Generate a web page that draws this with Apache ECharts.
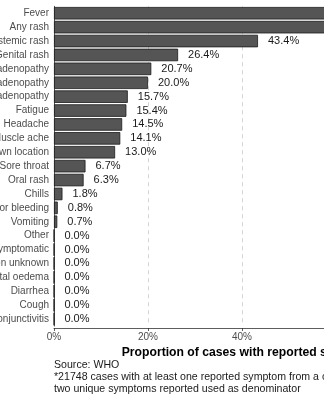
<!DOCTYPE html>
<html>
<head>
<meta charset="utf-8">
<script src="https://cdn.jsdelivr.net/npm/echarts@6/dist/echarts.min.js"></script>
<style>html,body{margin:0;padding:0;background:#fff}#c{width:324px;height:400px}</style>
</head>
<body>
<div id="c"></div>
<script>
var categories = ["Fever","Any rash","Systemic rash","Genital rash","Inguinal lymphadenopathy","Generalized lymphadenopathy","Cervical lymphadenopathy","Fatigue","Headache","Muscle ache","Rash, unknown location","Sore throat","Oral rash","Chills","Hemorrhage and/or bleeding","Vomiting","Other","Asymptomatic","Rash location unknown","Genital oedema","Diarrhea","Cough","Conjunctivitis"];
var values = [62.3, 58.9, 43.4, 26.4, 20.7, 20.0, 15.7, 15.4, 14.5, 14.1, 13.0, 6.7, 6.3, 1.8, 0.8, 0.7, 0.0, 0.0, 0.0, 0.0, 0.0, 0.0, 0.0];
var xTicks = [0, 20, 40, 60, 80];
var axisTitle = "Proportion of cases with reported symptoms*";
var caption = "Source: WHO\n*21748 cases with at least one reported symptom from a country with at least\ntwo unique symptoms reported used as denominator";

var chart = echarts.init(document.getElementById('c'), null, {renderer: 'canvas'});
var FONT = '"Liberation Sans", Arial, Helvetica, sans-serif';
chart.setOption({
  animation: false,
  textStyle: {fontFamily: FONT},
  title: {
    text: caption, left: 54, top: 359, padding: 0,
    textStyle: {fontSize: 10.6, fontWeight: 'normal', color: '#1a1a1a', lineHeight: 12, fontFamily: FONT}
  },
  grid: {left: 54, right: -129.5, top: 6.3, bottom: 74, containLabel: false, outerBoundsMode: 'none'},
  xAxis: {
    type: 'value', min: xTicks[0], max: 85, interval: 20, offset: 2,
    axisLine: {show: true, lineStyle: {color: '#333', width: 0.8}},
    axisTick: {show: true, length: 3, lineStyle: {color: '#333', width: 0.8}},
    axisLabel: {fontSize: 10, color: '#4d4d4d', margin: 4, formatter: '{value}%', fontFamily: FONT},
    splitLine: {show: true, lineStyle: {color: '#c8c8c8', type: [4, 4], width: 0.8}},
    name: axisTitle, nameLocation: 'middle', nameGap: 14,
    nameTextStyle: {fontSize: 12.2, fontWeight: 'bold', color: '#000', fontFamily: FONT}
  },
  yAxis: {
    type: 'category', data: categories, inverse: true,
    axisLine: {show: true, lineStyle: {color: '#333', width: 0.8}},
    axisTick: {show: false},
    axisLabel: {fontSize: 10, color: '#4d4d4d', margin: 5, fontFamily: FONT},
    splitLine: {show: false}
  },
  series: [{
    type: 'bar', data: values, barCategoryGap: '10%',
    itemStyle: {color: '#555555', borderColor: '#1a1a1a', borderWidth: 0.8},
    label: {show: true, position: 'right', distance: 10, fontSize: 11, color: '#1a1a1a', fontFamily: FONT,
      formatter: function(p){return p.value.toFixed(1) + '%';}}
  }]
});
</script>
</body>
</html>
